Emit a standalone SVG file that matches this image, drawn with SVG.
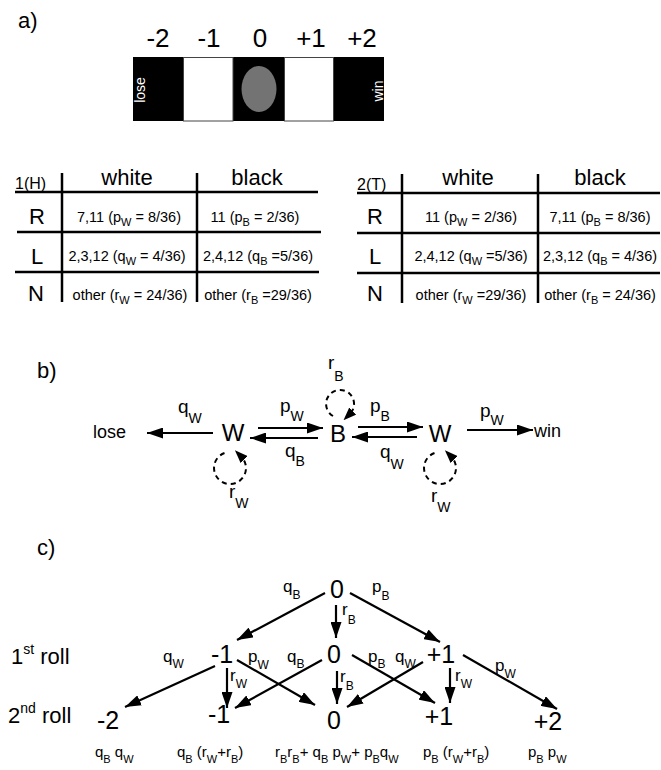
<svg xmlns="http://www.w3.org/2000/svg" width="661" height="770" viewBox="0 0 661 770">
<style>
text{font-family:"Liberation Sans",Arial,sans-serif;fill:#000}
.pl{font-size:22px}
.num{font-size:26px;text-anchor:middle}
.hd{font-size:22px;text-anchor:middle}
.rw{font-size:22px;text-anchor:middle}
.cell{font-size:14.5px;text-anchor:middle}
.cs{font-size:11px}
.tb{stroke:#000;stroke-width:2.5}
.nd{font-size:24px;text-anchor:middle}
.lb{font-size:19px}
.sb{font-size:14px}
.tn{font-size:25px;text-anchor:middle}
.cl{font-size:17px}
.cb{font-size:12px}
.fm{font-size:15px}
.fs{font-size:11px}
.ln{stroke:#000;stroke-width:2.2;fill:none}
.dash{stroke:#000;stroke-width:2;fill:none;stroke-dasharray:5,4}
</style>
<defs>
<marker id="ah" markerUnits="userSpaceOnUse" markerWidth="16" markerHeight="11" refX="16" refY="5.5" orient="auto"><path d="M0,0 L16,5.5 L0,11 z" fill="#000"/></marker>
<marker id="ahs" markerUnits="userSpaceOnUse" markerWidth="13" markerHeight="10" refX="4" refY="5" orient="auto"><path d="M0,0 L13,5 L0,10 z" fill="#000"/></marker>
</defs>

<!-- Part a -->
<g id="part-a">
<text x="18" y="28" class="pl">a)</text>
<text x="158" y="47" class="num">-2</text>
<text x="209" y="47" class="num">-1</text>
<text x="260" y="47" class="num">0</text>
<text x="311" y="47" class="num">+1</text>
<text x="362" y="47" class="num">+2</text>
<rect x="133" y="57" width="251" height="64" fill="#000"/>
<rect x="183.5" y="57.5" width="49.5" height="63.5" fill="#fff" stroke="#444" stroke-width="1"/>
<rect x="284.5" y="57.5" width="49" height="63.5" fill="#fff" stroke="#444" stroke-width="1"/>
<ellipse cx="259" cy="89" rx="17.5" ry="23" fill="#737373"/>
<text transform="translate(145,90) rotate(-90)" font-size="14" text-anchor="middle" style="fill:#fff">lose</text>
<text transform="translate(383,91) rotate(-90)" font-size="14" text-anchor="middle" style="fill:#fff">win</text>
</g>

<!-- Table 1 -->
<g id="table-1">
<line class="tb" x1="15" y1="192" x2="318" y2="192"/>
<line class="tb" x1="17" y1="232" x2="321" y2="232"/>
<line class="tb" x1="15" y1="272" x2="319" y2="272"/>
<line class="tb" x1="62" y1="173" x2="62" y2="302"/>
<line class="tb" x1="197" y1="173" x2="197" y2="302"/>
<text x="15" y="189" font-size="16">1(H)</text>
<text x="127" y="185" class="hd">white</text>
<text x="257" y="185" class="hd">black</text>
<text x="37" y="224" class="rw">R</text>
<text x="37" y="264" class="rw">L</text>
<text x="36" y="301" class="rw">N</text>
<text x="129" y="222" class="cell">7,11 (p<tspan class="cs" dy="4">W</tspan><tspan dy="-4"> = 8/36)</tspan></text>
<text x="255" y="222" class="cell">11 (p<tspan class="cs" dy="4">B</tspan><tspan dy="-4"> = 2/36)</tspan></text>
<text x="127" y="261" class="cell">2,3,12 (q<tspan class="cs" dy="4">W</tspan><tspan dy="-4"> = 4/36)</tspan></text>
<text x="258" y="261" class="cell">2,4,12 (q<tspan class="cs" dy="4">B</tspan><tspan dy="-4"> =5/36)</tspan></text>
<text x="130" y="300" class="cell">other (r<tspan class="cs" dy="4">W</tspan><tspan dy="-4"> = 24/36)</tspan></text>
<text x="258" y="300" class="cell">other (r<tspan class="cs" dy="4">B</tspan><tspan dy="-4"> =29/36)</tspan></text>
</g>

<!-- Table 2 -->
<g id="table-2">
<line class="tb" x1="357" y1="193" x2="660" y2="193"/>
<line class="tb" x1="357" y1="233" x2="660" y2="233"/>
<line class="tb" x1="357" y1="273" x2="660" y2="273"/>
<line class="tb" x1="402" y1="174" x2="402" y2="303"/>
<line class="tb" x1="538" y1="174" x2="538" y2="303"/>
<text x="357" y="190" font-size="16">2(T)</text>
<text x="468" y="185" class="hd">white</text>
<text x="600" y="185" class="hd">black</text>
<text x="375" y="224" class="rw">R</text>
<text x="375" y="264" class="rw">L</text>
<text x="375" y="301" class="rw">N</text>
<text x="471" y="222" class="cell">11 (p<tspan class="cs" dy="4">W</tspan><tspan dy="-4"> = 2/36)</tspan></text>
<text x="600" y="222" class="cell">7,11 (p<tspan class="cs" dy="4">B</tspan><tspan dy="-4"> = 8/36)</tspan></text>
<text x="471" y="261" class="cell">2,4,12 (q<tspan class="cs" dy="4">W</tspan><tspan dy="-4"> =5/36)</tspan></text>
<text x="600" y="261" class="cell">2,3,12 (q<tspan class="cs" dy="4">B</tspan><tspan dy="-4"> = 4/36)</tspan></text>
<text x="471" y="300" class="cell">other (r<tspan class="cs" dy="4">W</tspan><tspan dy="-4"> =29/36)</tspan></text>
<text x="600" y="300" class="cell">other (r<tspan class="cs" dy="4">B</tspan><tspan dy="-4"> = 24/36)</tspan></text>
</g>

<!-- Part b -->
<text x="37" y="378" class="pl">b)</text>
<g id="b-lose"><text x="93" y="438" font-size="18">lose</text></g>
<g id="b-W1"><text x="233" y="441" class="nd">W</text></g>
<g id="b-B"><text x="338" y="442" class="nd">B</text></g>
<g id="b-W2"><text x="440" y="442" class="nd">W</text></g>
<g id="b-win"><text x="534" y="437" font-size="18">win</text></g>
<g id="b-connectors">
<line class="ln" x1="213" y1="433" x2="147" y2="433" marker-end="url(#ah)"/>
<line class="ln" x1="258" y1="428" x2="323" y2="428" marker-end="url(#ah)"/>
<line class="ln" x1="318" y1="438" x2="250" y2="438" marker-end="url(#ah)"/>
<line class="ln" x1="358" y1="427" x2="423" y2="427" marker-end="url(#ah)"/>
<line class="ln" x1="417" y1="437" x2="352" y2="437" marker-end="url(#ah)"/>
<line class="ln" x1="467" y1="430" x2="533" y2="430" marker-end="url(#ah)"/>
<path class="dash" d="M333,416 A14,14 0 1 1 349.9,413.9" marker-end="url(#ahs)"/>
<path class="dash" d="M224.5,453 A16,16 0 1 0 241.3,456.7" marker-end="url(#ahs)"/>
<path class="dash" d="M434.5,453 A16,16 0 1 0 451.3,456.7" marker-end="url(#ahs)"/>
<text x="178" y="413" class="lb">q<tspan class="sb" dy="10">W</tspan></text>
<text x="280" y="412" class="lb">p<tspan class="sb" dy="9">W</tspan></text>
<text x="285" y="457" class="lb">q<tspan class="sb" dy="9">B</tspan></text>
<text x="328" y="369" class="lb">r<tspan class="sb" dy="12">B</tspan></text>
<text x="370" y="412" class="lb">p<tspan class="sb" dy="9">B</tspan></text>
<text x="380" y="458" class="lb">q<tspan class="sb" dy="11">W</tspan></text>
<text x="480" y="417" class="lb">p<tspan class="sb" dy="8">W</tspan></text>
<text x="229" y="498" class="lb">r<tspan class="sb" dy="10">W</tspan></text>
<text x="431" y="502" class="lb">r<tspan class="sb" dy="10">W</tspan></text>
</g>

<!-- Part c -->
<text x="37" y="555" class="pl">c)</text>
<text x="11" y="664" font-size="22">1<tspan font-size="14" dy="-10">st</tspan><tspan dy="10"> roll</tspan></text>
<text x="8" y="723" font-size="22">2<tspan font-size="14" dy="-10">nd</tspan><tspan dy="10"> roll</tspan></text>
<g id="c-top0"><text x="337" y="598" class="tn">0</text></g>
<g id="c-r1-m1"><text x="222" y="663" class="tn">-1</text></g>
<g id="c-r1-0"><text x="334" y="663" class="tn">0</text></g>
<g id="c-r1-p1"><text x="441" y="663" class="tn">+1</text></g>
<g id="c-r2-m2"><text x="108" y="729" class="tn">-2</text></g>
<g id="c-r2-m1"><text x="219" y="723" class="tn">-1</text></g>
<g id="c-r2-0"><text x="334" y="729" class="tn">0</text></g>
<g id="c-r2-p1"><text x="439" y="725" class="tn">+1</text></g>
<g id="c-r2-p2"><text x="548" y="730" class="tn">+2</text></g>
<g id="c-connectors">
<line class="ln" x1="325" y1="593" x2="237" y2="640" marker-end="url(#ah)"/>
<line class="ln" x1="336" y1="605" x2="336" y2="638" marker-end="url(#ah)"/>
<line class="ln" x1="350" y1="593" x2="440" y2="642" marker-end="url(#ah)"/>
<line class="ln" x1="215" y1="666" x2="125" y2="707" marker-end="url(#ah)"/>
<line class="ln" x1="227" y1="668" x2="227" y2="708" marker-end="url(#ah)"/>
<line class="ln" x1="237" y1="660" x2="315" y2="705" marker-end="url(#ah)"/>
<line class="ln" x1="322" y1="660" x2="235" y2="708" marker-end="url(#ah)"/>
<line class="ln" x1="337" y1="671" x2="337" y2="704" marker-end="url(#ah)"/>
<line class="ln" x1="352" y1="655" x2="435" y2="703" marker-end="url(#ah)"/>
<line class="ln" x1="423" y1="662" x2="347" y2="707" marker-end="url(#ah)"/>
<line class="ln" x1="450" y1="668" x2="450" y2="703" marker-end="url(#ah)"/>
<line class="ln" x1="463" y1="655" x2="557" y2="709" marker-end="url(#ah)"/>
<text x="283" y="592" class="cl">q<tspan class="cb" dy="7">B</tspan></text>
<text x="372" y="592" class="cl">p<tspan class="cb" dy="8">B</tspan></text>
<text x="342" y="615" class="cl">r<tspan class="cb" dy="9">B</tspan></text>
<text x="163" y="662" class="cl">q<tspan class="cb" dy="6">W</tspan></text>
<text x="248" y="662" class="cl">p<tspan class="cb" dy="7">W</tspan></text>
<text x="287" y="662" class="cl">q<tspan class="cb" dy="6">B</tspan></text>
<text x="368" y="662" class="cl">p<tspan class="cb" dy="6">B</tspan></text>
<text x="395" y="662" class="cl">q<tspan class="cb" dy="6">W</tspan></text>
<text x="495" y="671" class="cl">p<tspan class="cb" dy="7">W</tspan></text>
<text x="230" y="681" class="cl">r<tspan class="cb" dy="7">W</tspan></text>
<text x="340" y="682" class="cl">r<tspan class="cb" dy="8">B</tspan></text>
<text x="455" y="681" class="cl">r<tspan class="cb" dy="7">W</tspan></text>
</g>
<g id="c-formulas">
<text x="95" y="757" class="fm">q<tspan class="fs" dy="6">B</tspan><tspan dy="-6"> q</tspan><tspan class="fs" dy="6">W</tspan></text>
<text x="177" y="757" class="fm">q<tspan class="fs" dy="6">B</tspan><tspan dy="-6"> (r</tspan><tspan class="fs" dy="6">W</tspan><tspan dy="-6">+r</tspan><tspan class="fs" dy="6">B</tspan><tspan dy="-6">)</tspan></text>
<text x="275" y="757" class="fm">r<tspan class="fs" dy="6">B</tspan><tspan dy="-6">r</tspan><tspan class="fs" dy="6">B</tspan><tspan dy="-6">+ q</tspan><tspan class="fs" dy="6">B</tspan><tspan dy="-6"> p</tspan><tspan class="fs" dy="6">W</tspan><tspan dy="-6">+ p</tspan><tspan class="fs" dy="6">B</tspan><tspan dy="-6">q</tspan><tspan class="fs" dy="6">W</tspan></text>
<text x="423" y="757" class="fm">p<tspan class="fs" dy="6">B</tspan><tspan dy="-6"> (r</tspan><tspan class="fs" dy="6">W</tspan><tspan dy="-6">+r</tspan><tspan class="fs" dy="6">B</tspan><tspan dy="-6">)</tspan></text>
<text x="528" y="757" class="fm">p<tspan class="fs" dy="6">B</tspan><tspan dy="-6"> p</tspan><tspan class="fs" dy="6">W</tspan></text>
</g>
</svg>
